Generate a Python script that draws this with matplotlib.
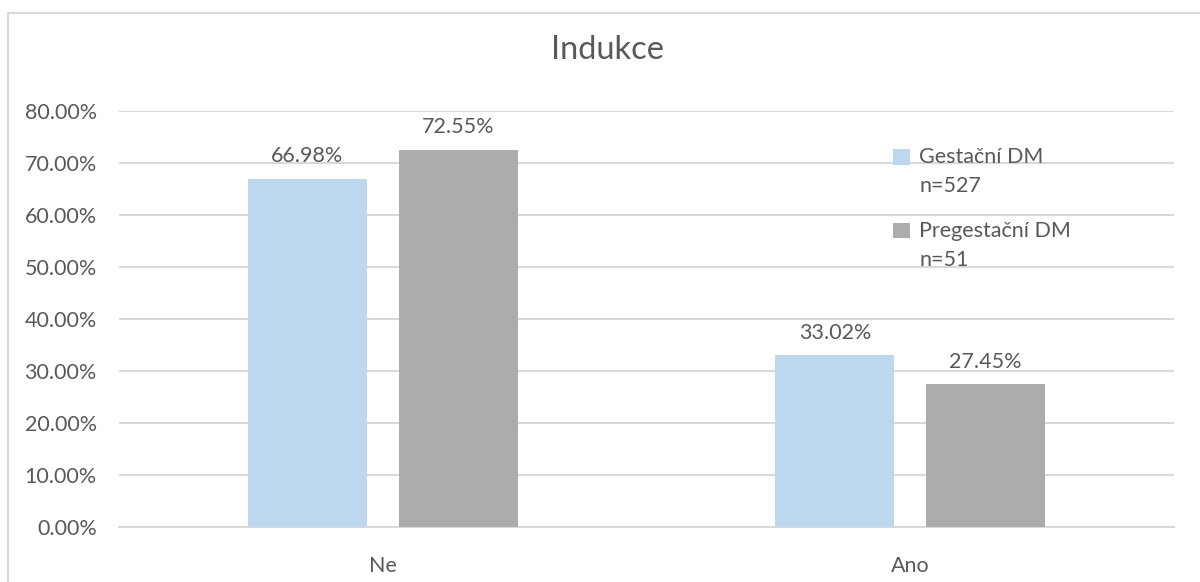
import matplotlib
matplotlib.use("Agg")
import matplotlib.pyplot as plt
from matplotlib.patches import Rectangle
import numpy as np

categories = ["Ne", "Ano"]
series_names = ["Gestační DM\nn=527", "Pregestační DM\nn=51"]
gest_values = [66.98, 33.02]
pregest_values = [72.55, 27.45]
yticks = [0, 10, 20, 30, 40, 50, 60, 70, 80]
title = "Indukce"

plt.rcParams['font.family'] = ['Lato', 'DejaVu Sans']
txt = '#595959'
grid = '#D9D9D9'
colors = ['#BDD7EE', '#AEABAB']
fs = 15.5

fig = plt.figure(figsize=(12, 5.82), dpi=100)
ax = fig.add_axes([119/1200, 1-527/582, 1055/1200, 416/582])

x = np.arange(len(categories))
w = 0.2256
off = 0.143
b1 = ax.bar(x - off, gest_values, w, color=colors[0], label=series_names[0], zorder=3)
b2 = ax.bar(x + off, pregest_values, w, color=colors[1], label=series_names[1], zorder=3)
for bars, vals in ((b1, gest_values), (b2, pregest_values)):
    for r, v in zip(bars, vals):
        ax.annotate(f"{v:.2f}%", (r.get_x() + r.get_width()/2, v), xytext=(0, 9),
                    textcoords='offset points', ha='center', va='bottom',
                    fontsize=fs, color=txt)

ax.set_xlim(-0.5, 1.5)
ax.set_ylim(0, 80)
ax.set_yticks(yticks)
ax.set_yticklabels([f"{t:.2f}%" for t in yticks])
ax.set_xticks(x)
ax.set_xticklabels(categories)
ax.tick_params(axis='both', length=0, labelsize=fs, labelcolor=txt)
ax.tick_params(axis='y', pad=16)
ax.tick_params(axis='x', pad=21)
ax.grid(axis='y', color=grid, linewidth=1.5, zorder=0)
for s in ['top', 'right', 'left']:
    ax.spines[s].set_visible(False)
ax.spines['bottom'].set_color(grid)
ax.spines['bottom'].set_linewidth(1.5)

fig.text(608/1200, 1-50/582, title, ha='center', va='center', fontsize=23.5, color=txt)

leg = ax.legend(loc='upper left', bbox_to_anchor=(874/1200, 1-128/582),
                bbox_transform=fig.transFigure, frameon=False, fontsize=fs,
                handlelength=0.75, handleheight=0.75, handletextpad=0.45,
                labelspacing=1.15, labelcolor=txt)
for t in leg.get_texts():
    t.set_linespacing(1.55)
for p in leg.get_patches():
    p.set_y(p.get_y() + 11)

fig.patches.append(Rectangle((7.5/1200, -0.1), 1.2, 1 - 12.5/582 + 0.1,
                             transform=fig.transFigure, fill=False,
                             edgecolor=grid, linewidth=1.5))

fig.savefig("out.png", dpi=100)
